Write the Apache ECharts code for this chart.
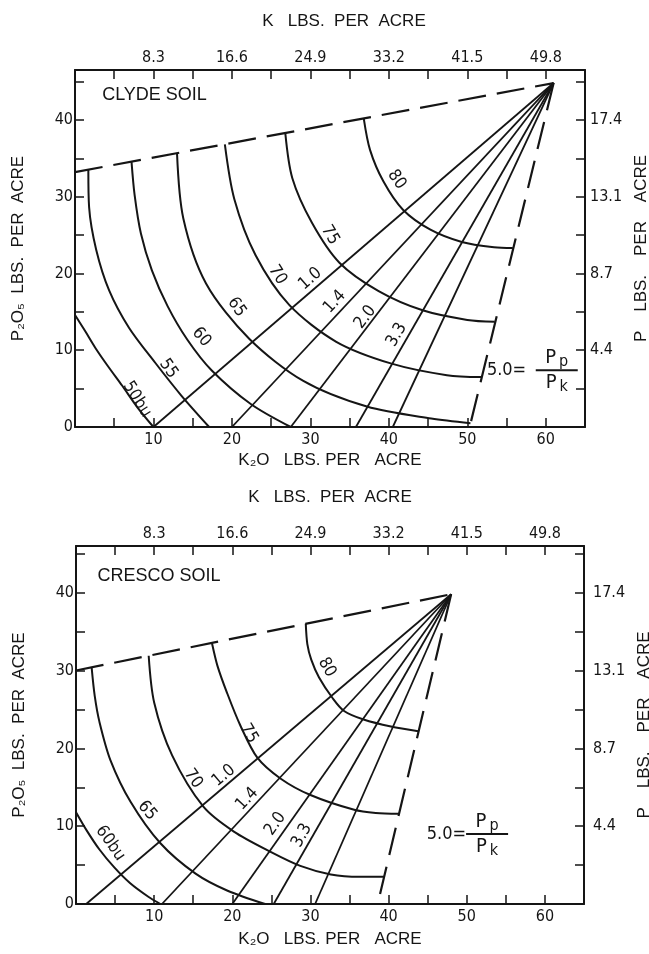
<!DOCTYPE html>
<html><head><meta charset="utf-8">
<script src="https://cdn.jsdelivr.net/npm/echarts@6/dist/echarts.min.js"></script>
<style>html,body{margin:0;padding:0;background:#fff}#c{width:649px;height:954px}</style>
</head><body><div id="c"></div>
<script>
// ---------------- data ----------------
const k2oTicks = [10, 20, 30, 40, 50, 60];
const kTickLabels = ['8.3', '16.6', '24.9', '33.2', '41.5', '49.8'];
const p2o5Ticks = [0, 10, 20, 30, 40];
const pRightTicks = [10, 20, 30, 40];
const pTickLabels = ['4.4', '8.7', '13.1', '17.4'];

// Clyde soil (K2O, P2O5)
const clydeApex = [61, 44.8];
const clydeTopEdge = [[0, 33.2], [61, 44.8]];
const clydeRightEdge = [[61, 44.8], [50.3, 0]];
const clydeRayFeet = [10, 20, 27.5, 35.8, 40.5];
const clyde50 = [[0,14.6],[1.35,12.4],[2.6,10.3],[4.25,7.85],[6,5.4],[8,2.5],[10,0]];
const clyde55 = [[1.7,33.5],[1.8,28.6],[2.7,23.1],[4.35,17.8],[6.9,12.9],[10.2,8.4],[13.55,4.1],[17.1,0]];
const clyde60 = [[7.2,34.6],[7.6,30.2],[8.4,25.2],[9.8,20.4],[11.8,15.75],[14.3,11.4],[17.4,7.4],[22.4,3.0],[27.5,0]];
const clyde65 = [[13,35.7],[13.8,27.2],[16.7,18.7],[22.2,11.5],[29.1,6],[37.2,2.66],[45.4,1.1],[50.4,0.5]];
const clyde70 = [[19.1,36.8],[20.3,29.7],[23,22.4],[27.3,15.9],[33.3,11.1],[40.35,8.25],[47.4,6.75],[51.8,6.5]];
const clyde75 = [[26.8,38.3],[27.7,32.4],[30.2,26.6],[33.7,21.4],[38.7,17.7],[44.3,15.2],[50,13.95],[53.5,13.7]];
const clyde80 = [[36.8,40.2],[37.6,36.1],[39.3,32],[41.8,28.3],[45.3,25.7],[49.3,24.1],[53.4,23.4],[55.8,23.3]];
const clydeCurves = [clyde50, clyde55, clyde60, clyde65, clyde70, clyde75, clyde80];
const clydeCurveText = ['50bu', '55', '60', '65', '70', '75', '80'];
const clydeCurveTextAt = [[7.9,3.6],[11.9,7.6],[16.1,11.7],[20.6,15.6],[25.8,19.8],[32.5,25],[41,32.2]];
const clydeCurveTextRot = [-58, -55, -50, -55, -58, -60, -55];
const clydeRayText = ['1.0', '1.4', '2.0', '3.3'];
const clydeRayTextAt = [[30,19.3],[33.1,16.3],[37,14.3],[41,12]];
const clydeRayTextRot = [41, 47, 53, 60];

// Cresco soil
const crescoApex = [48, 39.8];
const crescoTopEdge = [[0, 30], [48, 39.8]];
const crescoRightEdge = [[48, 39.8], [38.6, 0]];
const crescoRayFeet = [1.3, 11, 20, 25.3, 30.6];
const cresco60 = [[0,11.8],[1.4,9.4],[3,7],[4.9,4.7],[6.9,2.7],[9.3,0.9],[10.8,0]];
const cresco65 = [[2,30.4],[2.4,26.7],[3.0,23.4],[4.4,18.5],[7,13.1],[10.8,7.8],[15.3,3.9],[19.4,1.7],[24.2,0]];
const cresco70 = [[9.3,31.9],[10,25.9],[12.3,19.1],[16.3,12.5],[20.2,9.3],[24.9,6.7],[28.7,4.9],[32.6,3.8],[36.3,3.5],[39.4,3.5]];
const cresco75 = [[17.4,33.5],[18.1,30.6],[19.3,27.2],[21,23],[23.2,18.8],[26.2,16.1],[30,14],[35.6,12.1],[38.35,11.7],[41.3,11.6]];
const cresco80 = [[29.4,36],[29.6,33.4],[30.1,31.4],[31.1,29.1],[32.8,26.5],[34.3,24.8],[36.8,23.7],[40.3,22.8],[43.8,22.2]];
const crescoCurves = [cresco60, cresco65, cresco70, cresco75, cresco80];
const crescoCurveText = ['60bu', '65', '70', '75', '80'];
const crescoCurveTextAt = [[4.4,7.8],[9.1,12],[15,16.1],[22.1,21.9],[32.1,30.4]];
const crescoCurveTextRot = [-55, -50, -55, -60, -60];
const crescoRayText = ['1.0', '1.4', '2.0', '3.3'];
const crescoRayTextAt = [[18.9,16.5],[21.9,13.5],[25.5,10.3],[28.9,8.8]];
const crescoRayTextRot = [40, 47, 55, 62];

const soilNames = ['CLYDE SOIL', 'CRESCO SOIL'];
const soilNameAt = [[3.4, 43.2], [2.7, 42.1]];
const ratioEqAt = [[55, 7.4], [47.4, 9.0]];
const ratioFracAt = [[61.4, 7.4], [52.6, 9.0]];

// ---------------- chart ----------------
const INK = '#151515';
const NARROW = "'Liberation Sans Narrow','DejaVu Sans Condensed','Liberation Sans',sans-serif";
const SANS = "'Liberation Sans','DejaVu Sans',sans-serif";
const grids = [
  {left: 75, top: 70, width: 510, height: 357, outerBoundsMode: 'none', containLabel: false},
  {left: 76, top: 546, width: 508, height: 358, outerBoundsMode: 'none', containLabel: false}
];
const yMax = [46.5, 46];
const rightMargin = [5, 9];
const bottomTitleGap = [25, 27];
const topTitleGap = [40, 40];
const topTitlePad = [[0, 0, 0, 28], [0, 0, 0, 0]];

const xAxis = [], yAxis = [], series = [];
const tickStyle = {inside: true, length: 9, lineStyle: {color: INK, width: 1.5}};
const lineAx = {show: true, onZero: false, lineStyle: {color: INK, width: 2}};
const lbl = {color: INK, fontSize: 16, fontFamily: NARROW};
const ttl = {color: INK, fontSize: 17, fontFamily: SANS};

for (let g = 0; g < 2; g++) {
  xAxis.push({gridIndex: g, type: 'value', position: 'bottom', min: 0, max: 65, interval: 5,
    axisLine: lineAx, axisTick: tickStyle, splitLine: {show: false},
    axisLabel: Object.assign({margin: 5, formatter: v => k2oTicks.includes(v) ? String(v) : ''}, lbl),
    name: 'K₂O   LBS. PER   ACRE', nameLocation: 'middle', nameGap: bottomTitleGap[g], nameTextStyle: ttl});
  xAxis.push({gridIndex: g, type: 'value', position: 'top', min: 0, max: 65, interval: 5,
    axisLine: lineAx, axisTick: tickStyle, splitLine: {show: false},
    axisLabel: Object.assign({margin: 4, formatter: v => { const i = k2oTicks.indexOf(v); return i >= 0 ? kTickLabels[i] : ''; }}, lbl),
    name: 'K   LBS.  PER  ACRE', nameLocation: 'middle', nameGap: topTitleGap[g],
    nameTextStyle: Object.assign({padding: topTitlePad[g]}, ttl)});
  yAxis.push({gridIndex: g, type: 'value', position: 'left', min: 0, max: yMax[g], interval: 5,
    axisLine: lineAx, axisTick: tickStyle, splitLine: {show: false},
    axisLabel: Object.assign({margin: 2, formatter: v => p2o5Ticks.includes(v) ? String(v) : ''}, lbl),
    name: 'P₂O₅  LBS.  PER  ACRE', nameLocation: 'middle', nameGap: 48, nameTextStyle: ttl});
  yAxis.push({gridIndex: g, type: 'value', position: 'right', min: 0, max: yMax[g], interval: 5,
    axisLine: lineAx, axisTick: tickStyle, splitLine: {show: false},
    axisLabel: Object.assign({margin: rightMargin[g], formatter: v => { const i = pRightTicks.indexOf(v); return i >= 0 ? pTickLabels[i] : ''; }}, lbl),
    name: 'P    LBS.    PER    ACRE', nameLocation: 'middle', nameGap: 46, nameTextStyle: ttl});
}

function addLine(g, data, extra) {
  series.push(Object.assign({type: 'line', xAxisIndex: g * 2, yAxisIndex: g * 2, data: data,
    symbol: 'none', silent: true, animation: false, clip: false,
    lineStyle: {color: INK, width: 2}}, extra || {}));
}
function addTexts(g, items) {
  series.push({type: 'scatter', xAxisIndex: g * 2, yAxisIndex: g * 2, symbolSize: 1, silent: true,
    animation: false, itemStyle: {color: 'rgba(0,0,0,0)', opacity: 1}, data: items, z: 5});
}
function textItem(pos, text, rot, extra) {
  return {value: pos, label: Object.assign({show: true, position: 'inside', formatter: text, rotate: rot,
    color: INK, opacity: 1, textBorderWidth: 0, textBorderColor: 'transparent', textShadowBlur: 0,
    fontSize: 17, fontFamily: NARROW, align: 'center', verticalAlign: 'middle'}, extra || {})};
}

const sets = [
  {apex: clydeApex, top: clydeTopEdge, right: clydeRightEdge, feet: clydeRayFeet, curves: clydeCurves,
   ct: clydeCurveText, cat: clydeCurveTextAt, cr: clydeCurveTextRot, rt: clydeRayText, rat: clydeRayTextAt, rr: clydeRayTextRot},
  {apex: crescoApex, top: crescoTopEdge, right: crescoRightEdge, feet: crescoRayFeet, curves: crescoCurves,
   ct: crescoCurveText, cat: crescoCurveTextAt, cr: crescoCurveTextRot, rt: crescoRayText, rat: crescoRayTextAt, rr: crescoRayTextRot}
];

sets.forEach((s, g) => {
  addLine(g, s.top, {lineStyle: {color: INK, width: 2.2, type: [28, 11]}});
  addLine(g, s.right, {lineStyle: {color: INK, width: 2.2, type: [28, 12]}});
  s.feet.forEach(f => addLine(g, [s.apex, [f, 0]], {lineStyle: {color: INK, width: 1.8}}));
  s.curves.forEach(c => addLine(g, c, {smooth: 0.3, smoothMonotone: 'none'}));
  const items = [];
  s.ct.forEach((t, i) => items.push(textItem(s.cat[i], t, s.cr[i])));
  s.rt.forEach((t, i) => items.push(textItem(s.rat[i], t, s.rr[i])));
  items.push(textItem(soilNameAt[g], soilNames[g], 0, {position: 'right', distance: 0, align: 'left', fontSize: 18, fontFamily: SANS}));
  items.push(textItem(ratioEqAt[g], '5.0=', 0, {fontSize: 18}));
  items.push(textItem(ratioFracAt[g], '{p|P}{s|p}\n{ln|}\n{p|P}{s|k}', 0, {
    rich: {
      p: {fontSize: 20, fontFamily: NARROW, color: INK, lineHeight: 20},
      s: {fontSize: 16, fontFamily: NARROW, color: INK, padding: [8, 0, 0, 3], lineHeight: 20},
      ln: {width: 42, height: 2, backgroundColor: INK, lineHeight: 5}
    }}));
  addTexts(g, items);
});

const chart = echarts.init(document.getElementById('c'), null, {renderer: 'canvas'});
chart.setOption({
  backgroundColor: '#ffffff',
  animation: false,
  grid: grids,
  xAxis: xAxis,
  yAxis: yAxis,
  series: series
});
</script>
</body></html>
